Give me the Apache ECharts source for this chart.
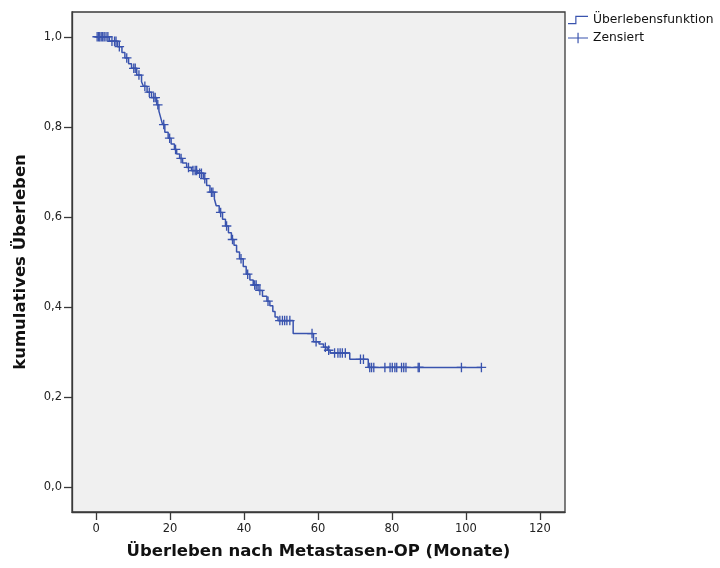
<!DOCTYPE html>
<html>
<head>
<meta charset="utf-8">
<script src="https://cdn.jsdelivr.net/npm/echarts@6/dist/echarts.min.js"></script>
<style>html,body{margin:0;padding:0;background:#fff;}#c{width:720px;height:568px;}</style>
</head>
<body>
<div id="c"></div>
<script>
// Kaplan-Meier step points: time (months) and survival after the step
const eventTimes = [0, 3.6, 5.8, 7.0, 7.8, 8.8, 9.6, 11.0, 12.3, 12.8, 13.8, 15.0, 16.4, 17.0, 17.5, 18.0, 18.6, 19.5, 20.3, 21.2, 21.8, 22.6, 23.4, 24.5, 25.8, 27.5, 29.0, 29.9, 30.8, 32.0, 32.5, 33.3, 34.2, 35.0, 35.8, 36.6, 37.3, 38.0, 38.8, 39.8, 40.6, 41.6, 42.5, 43.8, 45.0, 46.2, 47.0, 47.8, 48.4, 49.2, 53.3, 58.8, 60.3, 61.5, 62.5, 63.3, 68.6, 73.6, 104.2];
const survival = [1.0, 0.99, 0.978, 0.965, 0.953, 0.94, 0.93, 0.915, 0.9, 0.89, 0.877, 0.865, 0.849, 0.835, 0.82, 0.805, 0.788, 0.775, 0.762, 0.75, 0.74, 0.73, 0.72, 0.71, 0.703, 0.697, 0.685, 0.67, 0.655, 0.64, 0.625, 0.61, 0.595, 0.58, 0.565, 0.55, 0.537, 0.522, 0.507, 0.49, 0.473, 0.46, 0.449, 0.437, 0.424, 0.413, 0.403, 0.39, 0.378, 0.37, 0.341, 0.323, 0.318, 0.311, 0.304, 0.298, 0.284, 0.266, 0.266];
// Censored observations
const censorTimes = [0.3, 0.7, 1.0, 1.4, 1.8, 2.2, 2.7, 3.2, 4.3, 5.0, 5.4, 6.3, 8.3, 10.2, 10.6, 11.6, 13.2, 14.4, 15.6, 16.0, 16.7, 18.3, 19.9, 21.5, 23.0, 25.0, 26.2, 26.8, 27.2, 28.0, 28.5, 29.4, 31.2, 31.6, 33.7, 35.3, 36.9, 39.2, 41.0, 42.9, 43.3, 44.3, 46.5, 49.7, 50.4, 51.0, 51.6, 52.4, 58.4, 59.5, 62.0, 62.9, 64.5, 65.4, 66.0, 66.6, 67.4, 71.5, 72.3, 74.0, 74.5, 75.1, 78.1, 79.5, 80.1, 80.8, 81.3, 82.6, 83.2, 83.8, 87.1, 87.4, 98.8, 104.2];
const censorSurv = [1.0, 1.0, 1.0, 1.0, 1.0, 1.0, 1.0, 1.0, 0.99, 0.99, 0.99, 0.978, 0.953, 0.93, 0.93, 0.915, 0.89, 0.877, 0.865, 0.865, 0.849, 0.805, 0.775, 0.75, 0.73, 0.71, 0.703, 0.703, 0.703, 0.697, 0.697, 0.685, 0.655, 0.655, 0.61, 0.58, 0.55, 0.507, 0.473, 0.449, 0.449, 0.437, 0.413, 0.37, 0.37, 0.37, 0.37, 0.37, 0.341, 0.323, 0.311, 0.304, 0.298, 0.298, 0.298, 0.298, 0.298, 0.284, 0.284, 0.266, 0.266, 0.266, 0.266, 0.266, 0.266, 0.266, 0.266, 0.266, 0.266, 0.266, 0.266, 0.266, 0.266, 0.266];
const xTicks = [0, 20, 40, 60, 80, 100, 120];
const yTicks = [0, 0.2, 0.4, 0.6, 0.8, 1.0];

const blue = '#3953AE';
const axisCol = '#3a3a3a';
const font = 'DejaVu Sans';
const plusPath = 'path://M4,0h1.3v9.3h-1.3z M0,4h9.3v1.3h-9.3z';

const chart = echarts.init(document.getElementById('c'), null, {renderer: 'canvas'});
chart.setOption({
  animation: false,
  backgroundColor: '#ffffff',
  grid: {left: 72, right: 155, top: 12, bottom: 56, outerBoundsMode: 'none', containLabel: false,
    show: true, backgroundColor: '#F0F0F0', borderColor: axisCol, borderWidth: 1.3},
  legend: {
    orient: 'vertical', left: 568, top: 14, padding: 0, itemWidth: 20, itemHeight: 12, itemGap: 6,
    textStyle: {fontFamily: font, fontSize: 12.3, color: '#111'},
    data: [
      {name: 'Überlebensfunktion', icon: 'path://M0,9L8,9L8,1L22,1L22,2.3L9.3,2.3L9.3,10.3L0,10.3Z'},
      {name: 'Zensiert', icon: 'path://M0,5h22v1.3h-22z M10.4,0h1.3v11.3h-1.3z'}
    ]
  },
  xAxis: {
    type: 'value', min: -6.5, max: 126.8,
    name: 'Überleben nach Metastasen-OP (Monate)', nameLocation: 'middle', nameGap: 31, nameMoveOverlap: false,
    nameTextStyle: {fontFamily: font, fontSize: 16.5, fontWeight: 'bold', color: '#111'},
    axisLine: {show: true, onZero: false, lineStyle: {color: axisCol, width: 1.3}},
    axisTick: {show: true, length: 8, lineStyle: {color: axisCol, width: 1.3}, customValues: xTicks},
    axisLabel: {fontFamily: font, fontSize: 11.5, color: '#222', margin: 11, customValues: xTicks},
    splitLine: {show: false}
  },
  yAxis: {
    type: 'value', min: -0.055, max: 1.055,
    name: 'kumulatives Überleben', nameLocation: 'middle', nameGap: 43, nameMoveOverlap: false,
    nameTextStyle: {fontFamily: font, fontSize: 16.5, fontWeight: 'bold', color: '#111'},
    axisLine: {show: true, onZero: false, lineStyle: {color: axisCol, width: 1.3}},
    axisTick: {show: true, length: 8, lineStyle: {color: axisCol, width: 1.3}, customValues: yTicks},
    axisLabel: {fontFamily: font, fontSize: 11.5, color: '#222', margin: 10, customValues: yTicks,
      formatter: v => v.toFixed(1).replace('.', ',')},
    splitLine: {show: false}
  },
  series: [
    {
      name: 'Überlebensfunktion', type: 'line', step: 'end', showSymbol: false,
      lineStyle: {color: blue, width: 1.5}, itemStyle: {color: blue},
      data: eventTimes.map((t, i) => [t, survival[i]])
    },
    {
      name: 'Zensiert', type: 'scatter', symbol: plusPath, symbolSize: 9.5,
      itemStyle: {color: blue, opacity: 1},
      data: censorTimes.map((t, i) => [t, censorSurv[i]])
    }
  ]
});
</script>
</body>
</html>
